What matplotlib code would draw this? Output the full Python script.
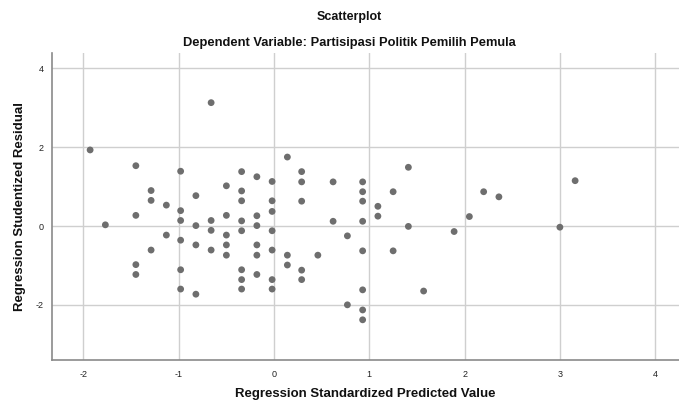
import matplotlib
matplotlib.use("Agg")
import matplotlib.pyplot as plt

plt.rcParams['font.family'] = ['Liberation Sans', 'DejaVu Sans']

# Regression Standardized Predicted Value
pred = [-1.93, -0.66, -1.45, -0.98, -0.34, -0.18, -0.02, -1.29, -1.29, -0.50,
        -0.34, -0.82, -0.34, -0.02, -1.13, -0.98, -1.45, -0.02, -1.77, -0.98,
        -0.82, -0.66, -0.50, -0.34, -0.18, -0.18, -0.02, -0.66, -0.34, -1.13,
        -0.50, -0.98, -0.82, -0.50, -0.18, -1.29, -0.66, -0.02, -0.50, -0.18,
        -1.45, -1.45, -0.98, -0.34, -0.34, -0.18, -0.02, -0.98, -0.34, -0.02,
        -0.82, 0.14, 0.29, 0.29, 0.62, 0.93, 0.93, 1.41, 1.25, 0.29,
        0.93, 1.09, 1.09, 0.62, 0.93, 1.41, 1.89, 0.77, 0.93, 1.25,
        0.14, 0.46, 0.14, 0.29, 0.29, 0.93, 1.57, 0.77, 0.93, 0.93,
        2.05, 2.20, 2.36, 3.16, 3.00]
# Regression Studentized Residual
resid = [1.93, 3.13, 1.53, 1.39, 1.38, 1.25, 1.13, 0.90, 0.65, 1.02,
         0.89, 0.77, 0.64, 0.64, 0.53, 0.39, 0.27, 0.37, 0.03, 0.14,
         0.01, 0.14, 0.27, 0.13, 0.26, 0.01, -0.12, -0.11, -0.12, -0.23,
         -0.23, -0.36, -0.48, -0.48, -0.48, -0.61, -0.61, -0.61, -0.74, -0.74,
         -0.98, -1.23, -1.11, -1.11, -1.36, -1.23, -1.36, -1.60, -1.60, -1.60,
         -1.73, 1.75, 1.38, 1.12, 1.12, 1.12, 0.87, 1.49, 0.87, 0.63,
         0.63, 0.50, 0.25, 0.12, 0.12, -0.01, -0.14, -0.25, -0.63, -0.63,
         -0.74, -0.74, -0.99, -1.12, -1.36, -1.62, -1.65, -2.00, -2.13, -2.38,
         0.24, 0.87, 0.74, 1.15, -0.03]

x_ticks = [-2, -1, 0, 1, 2, 3, 4]
y_ticks = [-2, 0, 2, 4]

fig = plt.figure(figsize=(6.79, 4.0), dpi=100)
ax = fig.add_axes([52/679, 1 - 360/400, 1 - 52/679, (360 - 53)/400])

ax.scatter(pred, resid, s=24, color='#6e6e6e', edgecolors='none', zorder=3)

ax.set_xlim(-2.33, 4.25)
ax.set_ylim(-3.40, 4.39)
ax.set_xticks(x_ticks)
ax.set_yticks(y_ticks)
ax.set_xticklabels([str(v) for v in x_ticks])
ax.set_yticklabels([str(v) for v in y_ticks])
ax.tick_params(axis='both', length=0, labelsize=6.5, colors='#222222')
ax.tick_params(axis='x', pad=7)
ax.tick_params(axis='y', pad=6)

ax.grid(True, color='#cfcfcf', linewidth=1.0, zorder=0)
ax.set_axisbelow(True)
for side in ['top', 'right']:
    ax.spines[side].set_visible(False)
for side in ['left', 'bottom']:
    ax.spines[side].set_color('#8a8a8a')
    ax.spines[side].set_linewidth(1.2)

ax.set_xlabel('Regression Standardized Predicted Value', fontsize=9.5,
              fontweight='bold', labelpad=7, color='#111111')
ax.set_ylabel('Regression Studentized Residual', fontsize=9.5,
              fontweight='bold', labelpad=7, color='#111111')

fig.text(349/679, 1 - 17/400, 'Scatterplot', ha='center', va='center',
         fontsize=9, fontweight='bold', color='#111111')
fig.text(349/679, 1 - 43/400, 'Dependent Variable: Partisipasi Politik Pemilih Pemula',
         ha='center', va='center', fontsize=9.3, fontweight='bold', color='#111111')

fig.savefig('out.png', dpi=100)
